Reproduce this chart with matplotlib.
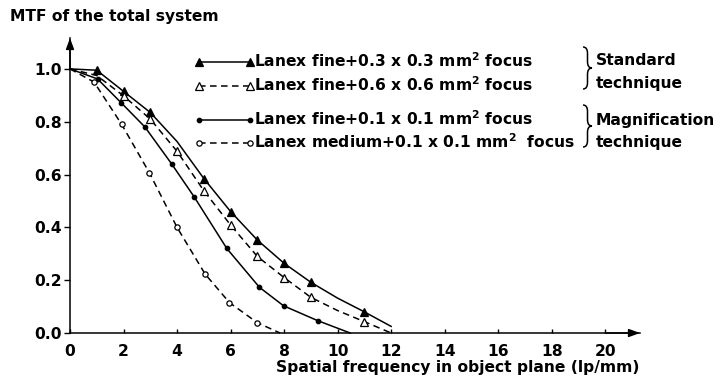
import matplotlib
matplotlib.use("Agg")
import matplotlib.pyplot as plt
from matplotlib.lines import Line2D
from matplotlib.path import Path
from matplotlib.patches import PathPatch

W, H = 722, 385

# MTF curves (spatial frequency lp/mm, MTF); first/last vertices are unmarked ends
fine03_x = [0, 1, 2, 3, 4, 5, 6, 7, 8, 9, 10, 11, 12]
fine03_y = [1.0, 0.995, 0.915, 0.835, 0.725, 0.585, 0.46, 0.352, 0.264, 0.192, 0.132, 0.08, 0.025]
fine03_marks = [1, 2, 3, 5, 6, 7, 8, 9, 11]

fine06_x = [0, 1, 2, 3, 4, 5, 6, 7, 8, 9, 10, 11, 12]
fine06_y = [1.0, 0.975, 0.898, 0.81, 0.688, 0.539, 0.409, 0.29, 0.21, 0.135, 0.085, 0.043, 0.0]
fine06_marks = [2, 3, 4, 5, 6, 7, 8, 9, 11]

fine01_x = [0, 1.03, 1.92, 2.8, 3.8, 4.65, 5.86, 7.08, 7.98, 9.25, 10.47]
fine01_y = [1.0, 0.962, 0.871, 0.78, 0.64, 0.514, 0.32, 0.173, 0.103, 0.047, 0.0]
fine01_marks = [1, 2, 3, 4, 5, 6, 7, 8, 9]

medium01_x = [0, 0.9, 1.93, 2.97, 4.0, 5.05, 5.96, 7.0, 7.85]
medium01_y = [1.0, 0.95, 0.79, 0.606, 0.40, 0.223, 0.115, 0.039, 0.0]
medium01_marks = [1, 2, 3, 4, 5, 6, 7]

labels = [
    r"Lanex fine+0.3 x 0.3 mm$^\mathbf{2}$ focus",
    r"Lanex fine+0.6 x 0.6 mm$^\mathbf{2}$ focus",
    r"Lanex fine+0.1 x 0.1 mm$^\mathbf{2}$ focus",
    r"Lanex medium+0.1 x 0.1 mm$^\mathbf{2}$  focus",
]

x_ticks = list(range(0, 21, 2))
y_ticks = [0.0, 0.2, 0.4, 0.6, 0.8, 1.0]

plt.rcParams["font.family"] = "DejaVu Sans"
plt.rcParams["font.weight"] = "bold"
FS = 11.2
DASH = (4.3, 2.9)

styles = [
    dict(ls="-", marker="^", mfc="k", ms=5.2),
    dict(ls=(0, DASH), marker="^", mfc="white", ms=5.4),
    dict(ls="-", marker="o", mfc="k", ms=3.2),
    dict(ls=(0, DASH), marker="o", mfc="white", ms=3.8),
]
series = [
    (fine03_x, fine03_y, fine03_marks),
    (fine06_x, fine06_y, fine06_marks),
    (fine01_x, fine01_y, fine01_marks),
    (medium01_x, medium01_y, medium01_marks),
]


def fpos(px, py):
    """Pixel position -> figure fraction."""
    return px / W, 1 - py / H


fig = plt.figure(figsize=(W / 100, H / 100), dpi=100)
fig.patch.set_facecolor("white")
l, b = fpos(70, 333)
ax = fig.add_axes([l, b, 570 / W, 295 / H])
ax.set_xlim(0, 21.3)
ax.set_ylim(0, 1.117)

for (xs, ys, marks), st in zip(series, styles):
    ax.plot(xs, ys, color="k", lw=1.1, linestyle=st["ls"], marker=st["marker"],
            markevery=marks, mfc=st["mfc"], mec="k", mew=0.9, ms=st["ms"],
            clip_on=False, zorder=3)

# axes with arrowheads
for sp in ["top", "right"]:
    ax.spines[sp].set_visible(False)
for sp in ["left", "bottom"]:
    ax.spines[sp].set_linewidth(1.1)
arrow = dict(arrowstyle="-|>,head_length=0.6,head_width=0.22", lw=1.1,
             color="k", mutation_scale=11, shrinkA=0, shrinkB=0)
ax.annotate("", xy=(21.3, 0), xytext=(20, 0), arrowprops=arrow, annotation_clip=False)
ax.annotate("", xy=(0, 1.117), xytext=(0, 1.0), arrowprops=arrow, annotation_clip=False)

ax.set_xticks(x_ticks)
ax.set_xticklabels([str(t) for t in x_ticks], fontsize=FS, fontweight="bold")
ax.set_yticks(y_ticks)
ax.set_yticklabels([f"{t:.1f}" for t in y_ticks], fontsize=FS, fontweight="bold")
ax.tick_params(axis="x", direction="in", length=3, width=1, pad=8)
ax.tick_params(axis="y", direction="out", length=4.3, width=1, pad=1.5)

ax.set_xlabel("Spatial frequency in object plane (lp/mm)", fontsize=FS,
              fontweight="bold", ha="right", va="top")
ax.xaxis.set_label_coords(1.0, -0.09)

fig.text(*fpos(10, 21), "MTF of the total system", fontsize=FS, fontweight="bold",
         ha="left", va="baseline")

# legend drawn by hand: handle with a marker at each end, label to the right
rows_y = [62, 86, 120, 143]
for st, lab, ry in zip(styles, labels, rows_y):
    x0, y0 = fpos(199, ry)
    x1, _ = fpos(250, ry)
    fig.add_artist(Line2D([x0, x1], [y0, y0], transform=fig.transFigure,
                          color="k", lw=1.1, linestyle=st["ls"], marker=st["marker"],
                          mfc=st["mfc"], mec="k", mew=0.9, ms=st["ms"]))
    fig.text(*fpos(254, ry + 5), lab, fontsize=FS, fontweight="bold",
             ha="left", va="baseline")


def brace(x0, yc, w, h):
    """Right-pointing curly brace in pixel coordinates."""
    xm = x0 + w * 0.5
    r = h * 0.3
    pts = [(x0, yc - h), (xm, yc - h), (xm, yc - h + r), (xm, yc - r),
           (xm, yc), (x0 + w, yc), (xm, yc), (xm, yc + r), (xm, yc + h - r),
           (xm, yc + h), (x0, yc + h)]
    codes = [Path.MOVETO, Path.CURVE3, Path.CURVE3, Path.LINETO,
             Path.CURVE3, Path.CURVE3, Path.CURVE3, Path.CURVE3, Path.LINETO,
             Path.CURVE3, Path.CURVE3]
    verts = [fpos(px, py) for px, py in pts]
    fig.add_artist(PathPatch(Path(verts, codes), transform=fig.transFigure,
                             fill=False, lw=1.1, ec="k"))


brace(583, 68, 9, 21)
brace(583, 126, 9, 21)

for txt, px, py in [("Standard", 596, 65), ("technique", 596, 88),
                    ("Magnification", 596, 125), ("technique", 596, 147)]:
    fig.text(*fpos(px, py), txt, fontsize=FS, fontweight="bold",
             ha="left", va="baseline")

fig.savefig("out.png", dpi=100, facecolor="white")
